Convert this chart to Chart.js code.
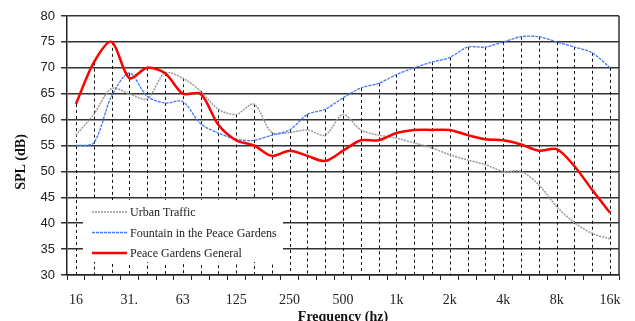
<!DOCTYPE html>
<html>
<head>
<meta charset="utf-8">
<script src="https://cdn.jsdelivr.net/npm/chart.js@4.4.1/dist/chart.umd.min.js"></script>
<style>
  html, body { margin: 0; background: #fff; }
  .chart-frame { width: 635px; height: 321px; }
</style>
</head>
<body>
<div class="chart-frame"><canvas id="spl"></canvas></div>
<script>
// third-octave band centres, Hz
const bands = ['16', '20', '25', '31.5', '40', '50', '63', '80', '100', '125', '160', '200', '250', '315', '400',
  '500', '630', '800', '1k', '1.25k', '1.6k', '2k', '2.5k', '3.15k', '4k', '5k', '6.3k', '8k', '10k', '12.5k', '16k'];
// only every third band gets a label on the axis
const octaveLabels = ['16', '31.', '63', '125', '250', '500', '1k', '2k', '4k', '8k', '16k'];

// SPL in dB per band
const urbanTraffic = [57, 61, 66, 65, 64, 69, 68, 65.5, 62, 61, 63, 57.5, 57.5, 58, 57, 61, 58, 57, 56.4, 55.5,
  54.5, 53.2, 52.2, 51.3, 50, 50, 47.4, 43.2, 40.1, 38, 37];
const fountain = [55, 55.5, 64.5, 69, 64.5, 63.2, 63.5, 59.2, 57.4, 56.2, 56, 57, 58, 61, 62, 64.2, 66.1, 67,
  68.7, 70, 71.1, 72, 74, 74, 75, 76, 76, 75, 74, 72.9, 70];
const gardensGeneral = [63, 71, 75, 68, 70, 69, 65, 65, 59, 56, 55, 53, 54, 53, 52, 54, 56, 56, 57.4, 58, 58, 58,
  57, 56.2, 56, 55.2, 54, 54.3, 51, 46.4, 42];

const serif = "'Liberation Serif', 'Times New Roman', serif";
const sans = "'Liberation Sans', Arial, sans-serif";

const series = [
  { label: 'Urban Traffic', data: urbanTraffic, color: '#9a9a9a', width: 1.5, dash: [2, 1], order: 2 },
  { label: 'Fountain in the Peace Gardens', data: fountain, color: '#4477f5', width: 1.3, dash: [3, 1], order: 1 },
  { label: 'Peace Gardens General', data: gardensGeneral, color: '#ff0000', width: 2.5, dash: [], order: 0 },
];

// dashed drop lines from the highest curve down to the axis, plus the right frame
const dropLines = {
  id: 'dropLines',
  beforeDatasetsDraw(chart) {
    const { ctx, chartArea, scales: { x, y } } = chart;
    ctx.save();
    ctx.strokeStyle = '#111';
    ctx.lineWidth = 1;
    ctx.setLineDash([3, 3]);
    bands.forEach((_, i) => {
      const top = Math.max(urbanTraffic[i], fountain[i], gardensGeneral[i]);
      const px = Math.round(x.getPixelForValue(i)) + 0.5;
      ctx.beginPath();
      ctx.moveTo(px, y.getPixelForValue(top));
      ctx.lineTo(px, chartArea.bottom);
      ctx.stroke();
    });
    ctx.setLineDash([]);
    ctx.strokeStyle = '#333';
    ctx.lineWidth = 1.5;
    ctx.beginPath();
    ctx.moveTo(chartArea.right, chartArea.top);
    ctx.lineTo(chartArea.right, chartArea.bottom);
    ctx.stroke();
    ctx.restore();
  },
};

// legend sitting inside the plot, lower left, plus the rotated y title
const insetLegend = {
  id: 'insetLegend',
  afterDraw(chart) {
    const { ctx } = chart;
    ctx.save();
    ctx.fillStyle = '#fff';
    ctx.fillRect(83, 200, 200, 62);
    ctx.font = `12px ${serif}`;
    ctx.textBaseline = 'middle';
    series.forEach((s, i) => {
      const yy = 212 + i * 20.5;
      ctx.strokeStyle = s.color;
      ctx.lineWidth = s.width;
      ctx.setLineDash(s.dash);
      ctx.beginPath();
      ctx.moveTo(92, yy);
      ctx.lineTo(127, yy);
      ctx.stroke();
      ctx.fillStyle = '#222';
      ctx.fillText(s.label, 130, yy + 1);
    });

    ctx.translate(21, 162);
    ctx.rotate(-Math.PI / 2);
    ctx.textAlign = 'center';
    ctx.fillStyle = '#111';
    ctx.font = `bold 14px ${serif}`;
    ctx.fillText('SPL (dB)', 0, 0);
    ctx.restore();
  },
};

new Chart(document.getElementById('spl'), {
  type: 'line',
  data: {
    labels: bands,
    datasets: series.map(s => ({
      label: s.label,
      data: s.data,
      borderColor: s.color,
      borderWidth: s.width,
      borderDash: s.dash,
      order: s.order,
      pointRadius: 0,
      tension: 0.3,
      fill: false,
    })),
  },
  options: {
    responsive: true,
    maintainAspectRatio: false,
    animation: false,
    layout: { padding: { top: 16, right: 16, left: 0, bottom: 0 } },
    plugins: { legend: { display: false }, tooltip: { enabled: false } },
    scales: {
      x: {
        offset: true,
        afterFit: s => { s.height = 46; },
        grid: { offset: true, drawOnChartArea: false, tickLength: 5, color: '#222' },
        border: { color: '#222', width: 1.5 },
        ticks: {
          autoSkip: false,
          maxRotation: 0,
          padding: 12,
          color: '#222',
          font: { family: serif, size: 14 },
          callback: (v, i) => (i % 3 === 0 ? octaveLabels[i / 3] : ''),
        },
        title: {
          display: true,
          text: 'Frequency (hz)',
          color: '#111',
          font: { family: serif, size: 14, weight: 'bold' },
          padding: { top: 0, bottom: -5 },
        },
      },
      y: {
        min: 30,
        max: 80,
        afterFit: s => { s.width = 67; },
        grid: { color: '#333', lineWidth: 1.5, tickLength: 6 },
        border: { color: '#222', width: 1.5 },
        ticks: { stepSize: 5, padding: 6, color: '#222', font: { family: sans, size: 13 } },
      },
    },
  },
  plugins: [dropLines, insetLegend],
});
</script>
</body>
</html>
